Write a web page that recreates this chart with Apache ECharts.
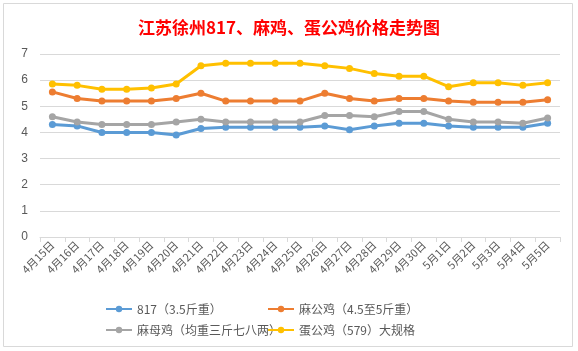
<!DOCTYPE html>
<html>
<head>
<meta charset="utf-8">
<script src="https://cdn.jsdelivr.net/npm/echarts@6/dist/echarts.min.js"></script>
<style>
  html, body { margin: 0; padding: 0; background: #fff; }
  #chart { width: 578px; height: 351px; }
</style>
</head>
<body>
<div id="chart"></div>
<script>
// 日期
const dates = ['4月15日', '4月16日', '4月17日', '4月18日', '4月19日', '4月20日', '4月21日',
  '4月22日', '4月23日', '4月24日', '4月25日', '4月26日', '4月27日', '4月28日', '4月29日',
  '4月30日', '5月1日', '5月2日', '5月3日', '5月4日', '5月5日']

const names = ['817（3.5斤重）', '麻公鸡（4.5至5斤重）', '麻母鸡（均重三斤七八两）', '蛋公鸡（579）大规格']

const v817 = [4.3, 4.25, 4.0, 4.0, 4.0, 3.9, 4.15, 4.2, 4.2, 4.2, 4.2,
  4.25, 4.1, 4.25, 4.35, 4.35, 4.25, 4.2, 4.2, 4.2, 4.35]
const maGong = [5.55, 5.3, 5.2, 5.2, 5.2, 5.3, 5.5, 5.2, 5.2, 5.2, 5.2,
  5.5, 5.3, 5.2, 5.3, 5.3, 5.2, 5.15, 5.15, 5.15, 5.25]
const maMu = [4.6, 4.4, 4.3, 4.3, 4.3, 4.4, 4.5, 4.4, 4.4, 4.4, 4.4,
  4.65, 4.65, 4.6, 4.8, 4.8, 4.5, 4.4, 4.4, 4.35, 4.55]
const danGong = [5.85, 5.8, 5.65, 5.65, 5.7, 5.85, 6.55, 6.65, 6.65, 6.65, 6.65,
  6.55, 6.45, 6.25, 6.15, 6.15, 5.75, 5.9, 5.9, 5.8, 5.9]

const colorList = ['#5B9BD5', '#ED7D31', '#A5A5A5', '#FFC000']
const seriesData = [v817, maGong, maMu, danGong]

// 图例位置 两行两列
const legendPos = [
  { left: 100, top: 298 },
  { left: 262, top: 298 },
  { left: 100, top: 319 },
  { left: 262, top: 319 },
]

const chartDom = echarts.init(document.getElementById('chart'))
const option = {
  animation: false,
  title: {
    text: '江苏徐州817、麻鸡、蛋公鸡价格走势图',
    left: 'center',
    top: 14,
    textStyle: {
      color: '#FF0000',
      fontSize: 17,
      fontWeight: 'bold',
      fontFamily: 'Noto Sans CJK SC',
    },
  },
  graphic: [
    {
      type: 'rect',
      shape: { x: 3.5, y: 3.5, width: 569, height: 343 },
      style: { fill: 'none', stroke: '#d9d9d9', lineWidth: 1 },
      silent: true,
    },
  ],
  legend: names.map((n, i) => ({
    data: [n],
    left: legendPos[i].left,
    top: legendPos[i].top,
    itemWidth: 26,
    itemHeight: 8,
    itemGap: 4,
    textStyle: { color: '#595959', fontSize: 12, fontFamily: 'Noto Sans CJK SC' },
  })),
  grid: {
    left: 40,
    right: 18,
    top: 54,
    bottom: 114,
  },
  xAxis: {
    type: 'category',
    data: dates,
    boundaryGap: true,
    axisLine: { lineStyle: { color: '#d9d9d9' } },
    axisTick: { show: true, length: 5, lineStyle: { color: '#d9d9d9' } },
    axisLabel: {
      rotate: 45,
      interval: 0,
      color: '#595959',
      fontSize: 11,
      margin: 6,
      fontFamily: 'Noto Sans CJK SC',
    },
  },
  yAxis: {
    type: 'value',
    min: 0,
    max: 7,
    interval: 1,
    axisLine: { show: false },
    axisTick: { show: false },
    axisLabel: { color: '#595959', fontSize: 12, margin: 12 },
    splitLine: { lineStyle: { color: '#d9d9d9' } },
  },
  series: seriesData.map((d, i) => ({
    name: names[i],
    type: 'line',
    data: d,
    symbol: 'circle',
    symbolSize: 7,
    color: colorList[i],
    lineStyle: { width: 3 },
    z: 2 + i,
  })),
}
chartDom.setOption(option)
</script>
</body>
</html>
